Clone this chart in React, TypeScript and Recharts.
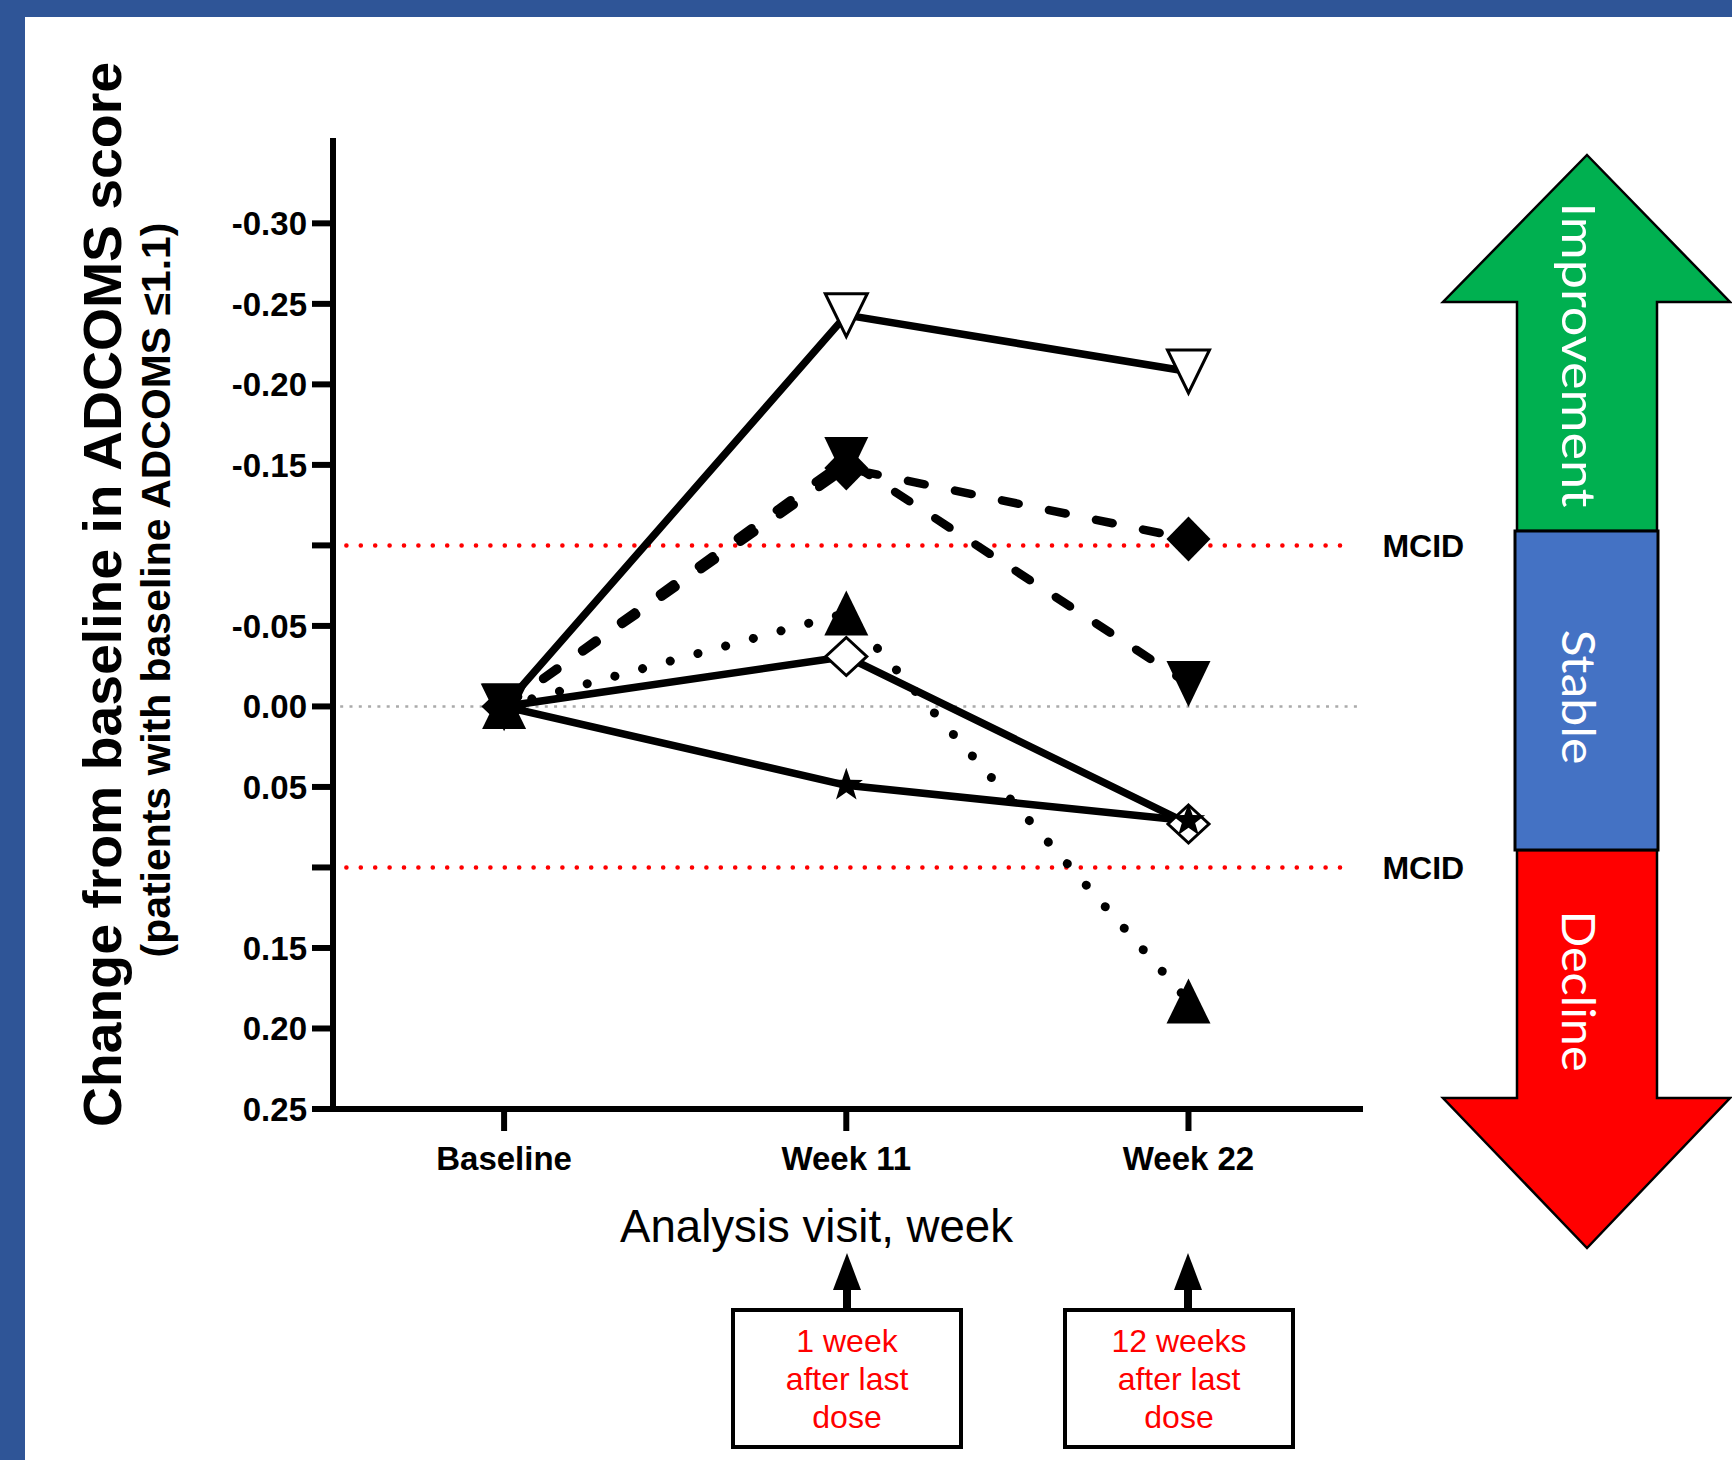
import { LineChart, Line, XAxis, YAxis, ReferenceLine } from "recharts";

const FONT = "'Liberation Sans', Arial, Helvetica, sans-serif";

// visits on the x axis (0 = Baseline, 1 = Week 11, 2 = Week 22)
const VISITS = ["Baseline", "Week 11", "Week 22"];

// change from baseline per group (negative = improvement)
const OPEN_INV_TRIANGLE = [0, -0.243, -0.208];
const FILLED_DIAMOND = [0, -0.148, -0.104];
const FILLED_INV_TRIANGLE = [0, -0.153, -0.014];
const FILLED_TRIANGLE = [0, -0.058, 0.183];
const OPEN_DIAMOND = [0, -0.031, 0.073];
const STAR = [0, 0.049, 0.071];

const Y_TICKS = [-0.3, -0.25, -0.2, -0.15, -0.1, -0.05, 0, 0.05, 0.1, 0.15, 0.2, 0.25];
const MCID = [-0.1, 0.1];

const data = VISITS.map((_, i) => ({
  x: i,
  invTriOpen: OPEN_INV_TRIANGLE[i],
  diamondFilled: FILLED_DIAMOND[i],
  invTriFilled: FILLED_INV_TRIANGLE[i],
  triFilled: FILLED_TRIANGLE[i],
  diamondOpen: OPEN_DIAMOND[i],
  star: STAR[i],
}));

type Shape = "invTriOpen" | "diamondFilled" | "invTriFilled" | "triFilled" | "diamondOpen" | "star";

function Marker({ cx, cy, shape }: { cx: number; cy: number; shape: Shape }) {
  if (cx == null || cy == null) return null;
  const pts = (p: number[][]) => p.map(([dx, dy]) => `${cx + dx},${cy + dy}`).join(" ");
  switch (shape) {
    case "invTriOpen":
      return <polygon points={pts([[-21, -21.5], [21, -21.5], [0, 21.5]])} fill="#fff" stroke="#000" strokeWidth={3} />;
    case "invTriFilled":
      return <polygon points={pts([[-22, -23], [22, -23], [0, 23]])} fill="#000" />;
    case "triFilled":
      return <polygon points={pts([[-22, 22.5], [22, 22.5], [0, -22.5]])} fill="#000" />;
    case "diamondFilled":
      return <polygon points={pts([[0, -22.5], [22, 0], [0, 22.5], [-22, 0]])} fill="#000" />;
    case "diamondOpen":
      return <polygon points={pts([[0, -19], [20.5, 0], [0, 19], [-20.5, 0]])} fill="#fff" stroke="#000" strokeWidth={3} />;
    case "star": {
      const p: number[][] = [];
      for (let k = 0; k < 10; k++) {
        const r = k % 2 === 0 ? 17.5 : 7;
        const a = -Math.PI / 2 + (k * Math.PI) / 5;
        p.push([r * Math.cos(a), r * Math.sin(a)]);
      }
      return <polygon points={pts(p)} fill="#000" />;
    }
  }
  return null;
}

const makeDot = (shape: Shape) => (p: any) => (
  <Marker key={`${shape}-${p.index}`} cx={p.cx} cy={p.cy} shape={shape} />
);

function VisitTick({ x, y, payload }: any) {
  return (
    <text x={x} y={y} dy={39} textAnchor="middle" fontFamily={FONT} fontSize={33} fontWeight="bold" fill="#000">
      {VISITS[payload.value]}
    </text>
  );
}

const yFmt = (v: number) => (Math.abs(Math.abs(v) - 0.1) < 1e-9 ? "" : v.toFixed(2));

export default function App() {
  return (
    <div style={{ position: "absolute", left: 0, top: 0, width: 1732, height: 1460, background: "#fff", overflow: "hidden" }}>
      <div style={{ position: "absolute", left: 0, top: 0, width: 1732, height: 17, background: "#2f5597" }} />
      <div style={{ position: "absolute", left: 0, top: 0, width: 25, height: 1460, background: "#2f5597" }} />

      <div style={{ position: "absolute", left: 0, top: 0 }}>
        <LineChart width={1732} height={1460} data={data} margin={{ top: 138, right: 369, bottom: 291, left: 0 }}>
          <XAxis
            dataKey="x"
            type="number"
            domain={[-0.5, 2.51]}
            ticks={[0, 1, 2]}
            interval={0}
            height={60}
            axisLine={{ stroke: "#000", strokeWidth: 6 }}
            tickLine={{ stroke: "#000", strokeWidth: 6 }}
            tickSize={22}
            tickMargin={0}
            tick={<VisitTick />}
          />
          <YAxis
            type="number"
            reversed
            domain={[-0.353, 0.25]}
            ticks={Y_TICKS}
            interval={0}
            width={333}
            axisLine={{ stroke: "#000", strokeWidth: 6 }}
            tickLine={{ stroke: "#000", strokeWidth: 6 }}
            tickSize={21}
            tickMargin={5}
            tickFormatter={yFmt}
            tick={{ fontSize: 33, fontWeight: "bold", fill: "#000", fontFamily: FONT }}
          />
          <ReferenceLine
            segment={[{ x: -0.479, y: 0 }, { x: 2.499, y: 0 }]}
            stroke="#aaaaaa"
            strokeWidth={2.5}
            strokeDasharray="3 6.3"
          />
          {MCID.map((m) => (
            <ReferenceLine
              key={m}
              segment={[{ x: -0.461, y: m }, { x: 2.479, y: m }]}
              stroke="#ff0000"
              strokeWidth={4.5}
              strokeLinecap="round"
              strokeDasharray="0.1 14.3"
              label={{ value: "MCID", position: "right", offset: 30, fill: "#000", fontSize: 32, fontWeight: "bold", fontFamily: FONT }}
            />
          ))}
          {/* open symbols first so the filled ones cover them at baseline */}
          <Line dataKey="invTriOpen" type="linear" stroke="#000" strokeWidth={7.5} strokeLinejoin="round" dot={makeDot("invTriOpen")} activeDot={false} isAnimationActive={false} />
          <Line dataKey="diamondOpen" type="linear" stroke="#000" strokeWidth={7.5} strokeLinejoin="round" dot={makeDot("diamondOpen")} activeDot={false} isAnimationActive={false} />
          <Line dataKey="diamondFilled" type="linear" stroke="#000" strokeWidth={8.5} strokeLinecap="round" strokeDasharray="17 31" dot={makeDot("diamondFilled")} activeDot={false} isAnimationActive={false} />
          <Line dataKey="invTriFilled" type="linear" stroke="#000" strokeWidth={8.5} strokeLinecap="round" strokeDasharray="17 31" dot={makeDot("invTriFilled")} activeDot={false} isAnimationActive={false} />
          <Line dataKey="triFilled" type="linear" stroke="#000" strokeWidth={9} strokeLinecap="round" strokeDasharray="0.1 28.6" dot={makeDot("triFilled")} activeDot={false} isAnimationActive={false} />
          <Line dataKey="star" type="linear" stroke="#000" strokeWidth={7.5} strokeLinejoin="round" dot={makeDot("star")} activeDot={false} isAnimationActive={false} />
        </LineChart>
      </div>

      <svg width={1732} height={1460} style={{ position: "absolute", left: 0, top: 0, pointerEvents: "none" }}>
        {/* y axis title */}
        <text transform="translate(121,594.5) rotate(-90)" textAnchor="middle" fontFamily={FONT} fontWeight="bold" fontSize={54} textLength={1065} lengthAdjust="spacingAndGlyphs" fill="#000">
          Change from baseline in ADCOMS score
        </text>
        <text transform="translate(170,590) rotate(-90)" textAnchor="middle" fontFamily={FONT} fontWeight="bold" fontSize={41} textLength={735} lengthAdjust="spacingAndGlyphs" fill="#000">
          (patients with baseline ADCOMS ≤1.1)
        </text>

        {/* x axis title */}
        <text x={620} y={1242} fontFamily={FONT} fontSize={47} textLength={393} lengthAdjust="spacingAndGlyphs" fill="#000">
          Analysis visit, week
        </text>

        {/* dose notes */}
        <polygon points="847,1253 861,1290 833,1290" fill="#000" />
        <line x1={847} y1={1288} x2={847} y2={1311} stroke="#000" strokeWidth={8} />
        <rect x={733} y={1310} width={228} height={137} fill="#fff" stroke="#000" strokeWidth={4} />
        <g fontFamily={FONT} fontSize={32} fill="#ff0000" textAnchor="middle">
          <text x={847} y={1352}>1 week</text>
          <text x={847} y={1390}>after last</text>
          <text x={847} y={1428}>dose</text>
        </g>
        <polygon points="1188,1253 1202,1290 1174,1290" fill="#000" />
        <line x1={1188} y1={1288} x2={1188} y2={1311} stroke="#000" strokeWidth={8} />
        <rect x={1065} y={1310} width={228} height={137} fill="#fff" stroke="#000" strokeWidth={4} />
        <g fontFamily={FONT} fontSize={32} fill="#ff0000" textAnchor="middle">
          <text x={1179} y={1352}>12 weeks</text>
          <text x={1179} y={1390}>after last</text>
          <text x={1179} y={1428}>dose</text>
        </g>

        {/* improvement / stable / decline arrow */}
        <polygon points="1587,155 1730,302 1657,302 1657,531 1517,531 1517,302 1443,302" fill="#00b050" stroke="#000" strokeWidth={2.5} />
        <polygon points="1517,850 1657,850 1657,1098 1730,1098 1587,1248 1443,1098 1517,1098" fill="#ff0000" stroke="#000" strokeWidth={2.5} />
        <rect x={1515} y={531} width={143} height={319} fill="#4472c4" stroke="#000" strokeWidth={3} />
        <g fontFamily="Lato, 'Open Sans', sans-serif" fontSize={46} fill="#fff" textAnchor="middle">
          <text transform="translate(1562,355) rotate(90)" textLength={305} lengthAdjust="spacingAndGlyphs">Improvement</text>
          <text transform="translate(1562,697) rotate(90)" textLength={135} lengthAdjust="spacingAndGlyphs">Stable</text>
          <text transform="translate(1562,991) rotate(90)" textLength={161} lengthAdjust="spacingAndGlyphs">Decline</text>
        </g>
      </svg>
    </div>
  );
}
